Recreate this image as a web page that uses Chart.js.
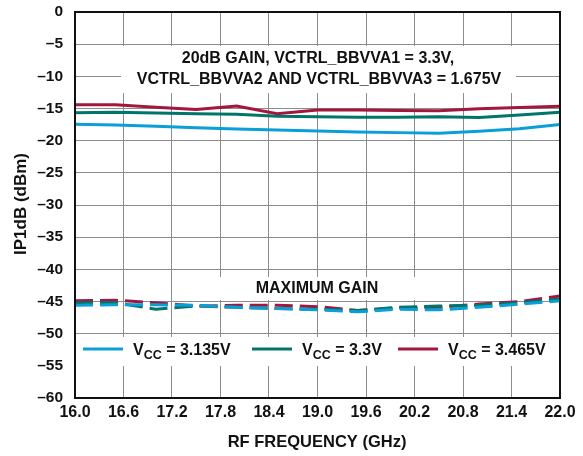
<!DOCTYPE html>
<html>
<head>
<meta charset="utf-8">
<script src="https://cdn.jsdelivr.net/npm/chart.js@4.4.0/dist/chart.umd.min.js"></script>
<style>
html,body{margin:0;padding:0;background:#fff;}
#wrap{width:583px;height:456px;position:relative;}
</style>
</head>
<body>
<div id="wrap"><canvas id="c" width="583" height="456"></canvas></div>
<script>
// ---- data ----
const freqs = [16.0, 16.5, 17.0, 17.5, 18.0, 18.5, 19.0, 19.5, 20.0, 20.5, 21.0, 21.5, 22.0];
const xTicks = [16.0, 16.6, 17.2, 17.8, 18.4, 19.0, 19.6, 20.2, 20.8, 21.4, 22.0];
const yTicks = [0, -5, -10, -15, -20, -25, -30, -35, -40, -45, -50, -55, -60];

const gain20_3135 = [-17.45, -17.55, -17.75, -18.0, -18.2, -18.35, -18.5, -18.65, -18.75, -18.85, -18.55, -18.15, -17.5];
const gain20_3300 = [-15.65, -15.6, -15.7, -15.8, -15.9, -16.2, -16.3, -16.35, -16.35, -16.3, -16.4, -16.0, -15.6];
const gain20_3465 = [-14.4, -14.4, -14.8, -15.15, -14.6, -15.8, -15.25, -15.25, -15.3, -15.35, -15.05, -14.85, -14.65];

const maxGain_3135 = [-45.6, -45.5, -45.5, -45.6, -45.9, -46.1, -46.3, -46.6, -46.2, -46.3, -45.9, -45.4, -44.9];
const maxGain_3300 = [-45.2, -45.2, -46.2, -45.7, -45.9, -46.1, -46.2, -46.4, -45.9, -45.7, -45.6, -45.2, -44.6];
const maxGain_3465 = [-44.9, -44.8, -45.2, -45.7, -45.6, -45.6, -45.8, -46.4, -46.0, -45.9, -45.4, -45.0, -44.15];

const seriesVcc = ['3.135V', '3.3V', '3.465V'];
const seriesColors = ['#0a9fd8', '#00766a', '#a3173f'];

const annotation1 = ['20dB GAIN, VCTRL_BBVVA1 = 3.3V,', 'VCTRL_BBVVA2 AND VCTRL_BBVVA3 = 1.675V'];
const annotation2 = 'MAXIMUM GAIN';
const xTitle = 'RF FREQUENCY (GHz)';
const yTitle = 'IP1dB (dBm)';

const FONT = '"Liberation Sans", Arial, sans-serif';
const pts = arr => arr.map((v, i) => ({x: freqs[i], y: v}));

function ds(data, color, dashed) {
  return {
    data: pts(data),
    borderColor: color,
    borderWidth: 3,
    borderDash: dashed ? [18, 7] : [],
    pointRadius: 0,
    tension: 0,
    fill: false
  };
}

const datasets = [
  ds(gain20_3135, seriesColors[0], false),
  ds(gain20_3300, seriesColors[1], false),
  ds(gain20_3465, seriesColors[2], false),
  ds(maxGain_3135, seriesColors[0], true),
  ds(maxGain_3300, seriesColors[1], true),
  ds(maxGain_3465, seriesColors[2], true)
];

const boxesPlugin = {
  id: 'boxes',
  beforeDatasetsDraw(chart) {
    const ctx = chart.ctx, a = chart.chartArea;
    ctx.save();
    ctx.fillStyle = '#fff';
    ctx.fillRect(121, 46, 395, 47);
    ctx.fillRect(205, 277, 240, 23);
    ctx.fillRect(a.left + 1, 337, a.right - a.left - 2, 29);
    ctx.restore();
  },
  afterDraw(chart) {
    const ctx = chart.ctx, a = chart.chartArea;
    ctx.save();
    ctx.strokeStyle = '#111';
    ctx.lineWidth = 2;
    ctx.strokeRect(a.left, a.top, a.right - a.left, a.bottom - a.top);

    ctx.fillStyle = '#111';
    ctx.textAlign = 'center';
    ctx.textBaseline = 'middle';
    ctx.font = 'bold 16px ' + FONT;
    ctx.fillText(annotation1[0], 318, 59);
    ctx.fillText(annotation1[1], 319, 80);
    ctx.fillText(annotation2, 317, 289);

    ctx.font = 'bold 16.5px ' + FONT;
    ctx.fillText(xTitle, 317, 442);
    ctx.save();
    ctx.translate(21, 204);
    ctx.rotate(-Math.PI / 2);
    ctx.font = 'bold 17px ' + FONT;
    ctx.fillText(yTitle, 0, 0);
    ctx.restore();

    const ly = 351;
    const lineX = [83, 252, 398];
    ctx.textAlign = 'left';
    for (let i = 0; i < seriesVcc.length; i++) {
      ctx.strokeStyle = seriesColors[i];
      ctx.lineWidth = 3;
      ctx.beginPath();
      ctx.moveTo(lineX[i], ly - 2);
      ctx.lineTo(lineX[i] + 40, ly - 2);
      ctx.stroke();
      let x = lineX[i] + 50;
      ctx.fillStyle = '#111';
      ctx.font = 'bold 16px ' + FONT;
      ctx.fillText('V', x, ly);
      x += ctx.measureText('V').width;
      ctx.font = 'bold 12.5px ' + FONT;
      ctx.fillText('CC', x, ly + 5);
      x += ctx.measureText('CC').width;
      ctx.font = 'bold 16px ' + FONT;
      ctx.fillText(' = ' + seriesVcc[i], x, ly);
    }
    ctx.restore();
  }
};

new Chart(document.getElementById('c'), {
  type: 'line',
  data: {datasets},
  options: {
    responsive: false,
    animation: false,
    devicePixelRatio: 1,
    layout: {padding: {left: 0, right: 23, top: 12, bottom: 0}},
    plugins: {legend: {display: false}, tooltip: {enabled: false}},
    scales: {
      x: {
        type: 'linear',
        min: 16, max: 22,
        afterBuildTicks: s => { s.ticks = xTicks.map(v => ({value: v})); },
        afterFit: s => { s.height = 58; },
        grid: {color: '#8c8c8c', lineWidth: 1, drawTicks: false},
        border: {display: false},
        ticks: {
          padding: 5,
          color: '#111',
          font: {family: FONT, size: 16, weight: 'bold'},
          maxRotation: 0,
          autoSkip: false,
          callback: v => Number(v).toFixed(1)
        }
      },
      y: {
        type: 'linear',
        min: -60, max: 0,
        afterBuildTicks: s => { s.ticks = yTicks.map(v => ({value: v})); },
        afterFit: s => { s.width = 75; s.paddingTop = 0; s.paddingBottom = 0; },
        grid: {color: '#8c8c8c', lineWidth: 1, drawTicks: false},
        border: {display: false},
        ticks: {
          padding: 12,
          color: '#111',
          font: {family: FONT, size: 15.5, weight: 'bold', lineHeight: 0.6},
          autoSkip: false,
          callback: v => v < 0 ? '\u2013' + Math.abs(v) : String(v)
        }
      }
    }
  },
  plugins: [boxesPlugin]
});
</script>
</body>
</html>
